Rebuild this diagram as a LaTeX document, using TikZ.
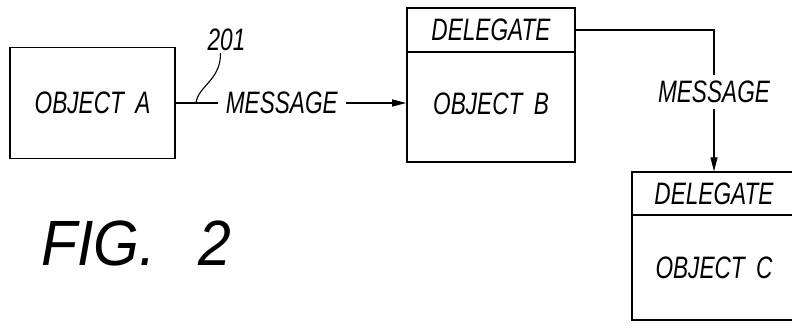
\documentclass[tikz,border=0pt]{standalone}
\usepackage{fontspec}
\newfontfamily\patentfont[FakeStretch=0.73,WordSpace=1.8]{Liberation Sans}
\newfontfamily\figfont[FakeStretch=0.92,WordSpace=2.6]{Liberation Sans}
\usetikzlibrary{arrows,arrows.meta,positioning,shapes}

\begin{document}
\begin{tikzpicture}[x=1pt,y=-1pt]

		\tikzstyle{lettering}=[font=\patentfont\itshape\fontsize{31}{36}\selectfont]
		\tikzstyle{objbox}=[lettering,draw,line width=1.6pt,inner sep=0pt]
		\tikzstyle{delegate}=[lettering,draw,line width=1.4pt,inner sep=0pt]
		\tikzstyle{message}=[line width=1.1pt,arrows={-Triangle[length=14pt,width=7pt]}]
		\tikzstyle{msglabel}=[lettering,fill=white,inner xsep=8pt,inner ysep=6pt]
		\tikzstyle{refnum}=[lettering,inner sep=2pt]
		
		\useasboundingbox (0,0) rectangle (792,327);
		
		\node[objbox,minimum width=165pt,minimum height=111pt] (a) at (92.5,103) {OBJECT A};
		
		\node[delegate,minimum width=168pt,minimum height=44pt] (bhead) at (491,30) {DELEGATE};
		\node[objbox,minimum width=168pt,minimum height=110pt,text depth=6pt] (bbody) at (491,107) {OBJECT B};
		
		\node[delegate,minimum width=164pt,minimum height=43pt] (chead) at (714,193.5) {DELEGATE};
		\node[objbox,minimum width=164pt,minimum height=105pt] (cbody) at (714,267.5) {OBJECT C};
		
		\draw[message] (a) -- node[msglabel,pos=0.46] {MESSAGE} (a -| bbody.west);
		\draw[message] (bhead) -| node[msglabel,pos=0.72] {MESSAGE} (chead);
		
		\node[refnum] (ref) at (226.5,40) {201};
		\coordinate (lead) at (196,103);
		\draw[line width=1.1pt] (lead) .. controls (198,86) and (221,80) .. ([xshift=-6pt]ref.south);
		
		\node[font=\figfont\itshape\fontsize{64}{70}\selectfont] (fig) at (136,243) {FIG. 2};
		
		\end{tikzpicture}
\end{document}
